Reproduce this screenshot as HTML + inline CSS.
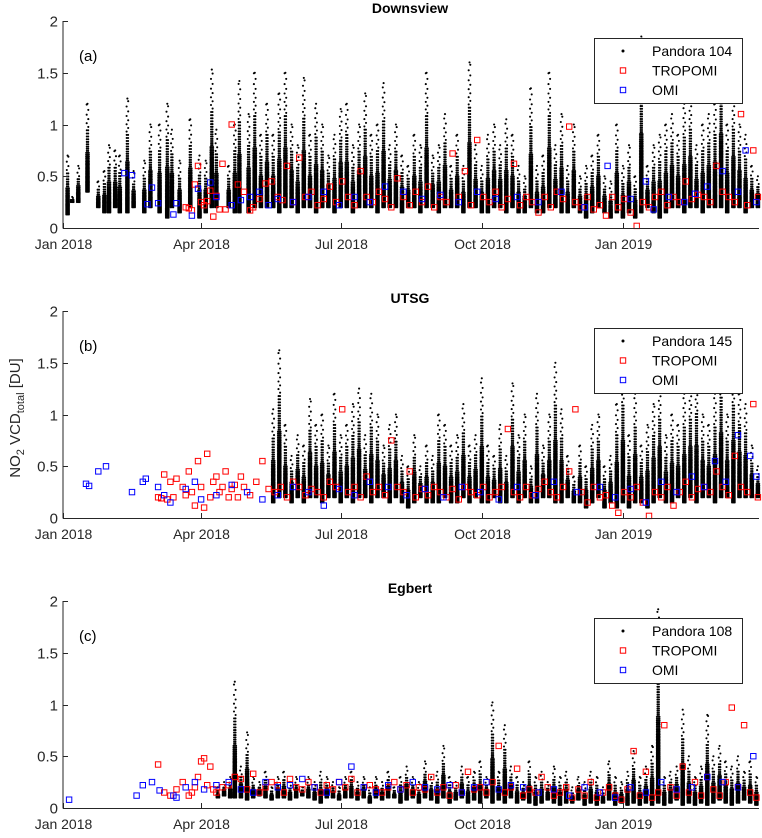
<!DOCTYPE html>
<html><head><meta charset="utf-8"><style>
html,body{margin:0;padding:0;background:#fff;}
svg{display:block;font-family:"Liberation Sans",Arial,sans-serif;}
</style></head><body>
<svg id="chart" width="762" height="838" viewBox="0 0 762 838" xmlns="http://www.w3.org/2000/svg"></svg>
<script>
// ---------- DATA ----------
const xTickLabels = ["Jan 2018","Apr 2018","Jul 2018","Oct 2018","Jan 2019"];
const xTickDays = [0,90,181,273,365];
const yTickLabels = ["0","0.5","1","1.5","2"];
const yTickValues = [0,0.5,1,1.5,2];
const panelTitles = ["Downsview","UTSG","Egbert"];
const panelLetters = ["(a)","(b)","(c)"];
const pandoraNames = ["Pandora 104","Pandora 145","Pandora 108"];

// Panel a
const aPanDays=[3,6,10,16,23,27,30,34,37,42,46,53,57,63,68,71,76,83,89,93,97,100,108,112,115,121,125,129,133,137,141,145,149,153,157,161,165,169,173,177,181,185,189,193,197,201,205,209,213,217,221,225,229,233,237,241,245,249,253,257,261,265,269,273,277,281,285,289,293,297,301,305,309,313,317,321,325,329,333,337,341,345,349,353,357,361,365,369,373,377,381,385,389,393,397,401,405,409,413,417,421,425,429,433,437,441,445,449,453];
const aPanHi=[.7,.3,.6,1.2,.45,.55,.8,.75,.7,1.25,.55,.65,1.0,1.0,1.2,.95,.65,1.05,.7,.65,1.53,.95,.6,1.0,1.42,1.1,1.5,.9,1.2,.9,1.3,1.5,1.0,.8,1.45,.9,1.2,1.0,.7,.9,1.15,1.2,.8,1.0,1.3,.9,1.0,1.4,.8,1.0,.7,.6,.9,.8,1.5,.7,.8,1.1,.6,.9,.6,1.6,.8,.6,.9,1.0,.8,1.05,.9,.6,.5,1.35,.6,.7,1.5,.8,1.1,.6,1.0,.5,.6,.7,.9,.5,.45,1.0,.6,.8,.5,1.85,.6,.8,.9,1.0,1.1,.9,1.2,1.3,.8,1.0,1.1,1.2,1.8,1.0,1.3,1.0,.9,.6,.5];
const aPanLo=[.13,.25,.25,.35,.2,.15,.15,.2,.15,.15,.2,.15,.2,.15,.1,.2,.15,.2,.1,.15,.2,.2,.2,.15,.15,.15,.2,.2,.2,.2,.15,.2,.2,.15,.2,.2,.15,.2,.2,.15,.2,.2,.15,.2,.2,.2,.15,.2,.2,.2,.15,.2,.2,.15,.2,.2,.15,.2,.2,.2,.15,.2,.2,.15,.15,.2,.2,.15,.2,.15,.15,.2,.15,.15,.2,.2,.15,.15,.2,.15,.1,.15,.2,.15,.1,.15,.1,.15,.1,.15,.2,.15,.1,.15,.2,.2,.15,.2,.2,.15,.2,.2,.2,.15,.2,.2,.15,.2,.2];
const aTropDays=[80,82,84,86,88,90,92,94,96,98,100,102,104,106,110,114,118,122,124,128,132,136,140,143,146,150,154,158,162,166,170,174,178,182,186,190,194,198,202,206,210,214,218,222,226,230,234,238,242,246,250,254,258,262,266,270,274,278,282,286,290,294,298,302,306,310,314,318,322,326,330,334,338,342,346,350,354,358,362,366,370,374,378,382,386,390,394,398,402,406,410,414,418,422,426,430,434,438,442,446,450,453];
const aTropVal=[.2,.19,.17,.42,.6,.25,.22,.26,.36,.11,.31,.18,.62,.18,1.0,.42,.35,.17,.2,.28,.43,.45,.3,.27,.6,.25,.68,.3,.35,.22,.28,.4,.25,.45,.3,.22,.55,.3,.25,.35,.28,.2,.48,.3,.22,.35,.25,.4,.2,.3,.25,.72,.3,.55,.22,.85,.3,.25,.35,.2,.28,.62,.22,.3,.25,.15,.3,.2,.35,.28,.98,.25,.2,.3,.18,.22,.12,.3,.2,.28,.15,.02,.25,.2,.3,.35,.22,.3,.25,.45,.28,.32,.3,.25,.6,.35,.3,.25,1.1,.22,.75,.3];
const aOmiDays=[40,45,55,58,62,72,74,84,88,96,100,110,116,122,128,134,140,150,160,170,180,190,200,210,222,234,246,258,270,282,296,310,325,340,355,370,380,385,395,405,412,420,430,440,445,452];
const aOmiVal=[.53,.51,.23,.39,.24,.13,.24,.12,.38,.44,.30,.22,.27,.30,.35,.22,.28,.25,.30,.35,.22,.30,.25,.40,.35,.28,.32,.25,.35,.28,.30,.25,.35,.20,.60,.28,.45,.18,.30,.25,.33,.40,.55,.35,.75,.25];

// Panel b
const bPanDays=[137,141,145,149,153,157,161,165,169,173,177,181,185,189,193,197,201,205,209,213,217,221,225,229,233,237,241,245,249,253,257,261,265,269,273,277,281,285,289,293,297,301,305,309,313,317,321,325,329,333,337,341,345,349,353,357,361,365,369,373,377,381,385,389,393,397,401,405,409,413,417,421,425,429,433,437,441,445,449,453];
const bPanHi=[1.05,1.62,.9,.6,.8,.7,1.15,.9,1.0,.7,1.2,.8,.9,1.1,1.25,.8,1.2,1.0,.7,.9,1.0,.6,.5,.8,.5,.7,.6,1.0,.9,.7,.8,1.1,.7,.8,1.35,.7,.6,.9,.6,1.3,.8,1.0,.5,1.2,.7,1.0,1.5,1.05,.6,.4,.7,.5,.9,1.0,.5,.6,1.1,1.5,.8,1.2,.7,.9,1.1,1.3,.8,1.0,.9,1.2,1.3,1.4,1.0,.9,1.2,1.6,1.0,1.5,1.2,1.1,.7,.5];
const bPanLo=[.15,.2,.2,.15,.2,.15,.2,.2,.15,.2,.2,.15,.2,.15,.2,.2,.15,.2,.2,.15,.2,.15,.1,.15,.2,.15,.15,.15,.2,.15,.15,.2,.15,.2,.15,.15,.2,.15,.15,.2,.15,.2,.15,.15,.2,.2,.15,.15,.2,.15,.15,.1,.15,.2,.1,.15,.1,.15,.1,.15,.15,.1,.15,.2,.15,.15,.2,.15,.2,.15,.2,.2,.15,.2,.2,.15,.2,.2,.2,.2];
const bTropDays=[62,64,66,68,70,72,74,78,80,82,84,86,88,90,92,94,96,98,100,102,104,106,108,110,112,114,116,118,122,126,130,134,138,142,146,150,154,158,162,166,170,174,178,182,186,190,194,198,202,206,210,214,218,222,226,230,234,238,242,246,250,254,258,262,266,270,274,278,282,286,290,294,298,302,306,310,314,318,322,326,330,334,338,342,346,350,354,358,362,366,370,374,378,382,386,390,394,398,402,406,410,414,418,422,426,430,434,438,442,446,450,453];
const bTropVal=[.2,.19,.42,.18,.35,.2,.38,.3,.22,.45,.25,.12,.55,.3,.1,.62,.2,.35,.4,.25,.3,.45,.2,.28,.32,.2,.4,.3,.22,.35,.55,.28,.25,.3,.2,.35,.3,.22,.28,.25,.2,.35,.3,1.05,.25,.3,.2,.4,.25,.3,.22,.75,.3,.25,.45,.2,.28,.22,.3,.25,.2,.28,.18,.3,.25,.22,.3,.2,.25,.3,.86,.25,.2,.3,.22,.28,.35,.25,.2,.3,.45,1.05,.25,.15,.3,.2,.22,.12,.05,.25,.2,.3,.15,.02,.25,.2,.3,.12,.25,.35,.2,.28,.3,.25,.45,.3,.22,.6,.3,.25,1.1,.2,.45];
const bOmiDays=[15,17,23,28,45,52,54,62,66,70,80,86,90,100,110,120,130,140,150,160,170,180,190,200,212,224,236,248,260,272,284,296,308,320,335,350,360,370,380,390,400,410,418,425,432,440,448,452];
const bOmiVal=[.33,.31,.45,.5,.25,.35,.38,.3,.22,.15,.28,.35,.18,.22,.32,.25,.18,.22,.3,.25,.12,.28,.22,.35,.3,.22,.28,.2,.3,.25,.18,.3,.22,.35,.25,.3,.2,.28,.15,.35,.25,.4,.3,.55,.35,.8,.6,.4];

// Panel c
const cPanDays=[101,105,109,112,116,120,124,128,132,136,140,144,148,152,156,160,164,168,172,176,180,184,188,192,196,200,204,208,212,216,220,224,228,232,236,240,244,248,252,256,260,264,268,272,276,280,284,288,292,296,300,304,308,312,316,320,324,328,332,336,340,344,348,352,356,360,364,368,372,376,380,384,388,392,396,400,404,408,412,416,420,424,428,432,436,440,444,448,452];
const cPanHi=[.2,.25,.3,1.22,.4,.73,.3,.25,.35,.2,.3,.35,.25,.3,.2,.3,.25,.35,.3,.25,.2,.3,.35,.25,.3,.2,.3,.25,.35,.2,.3,.4,.3,.25,.45,.3,.35,.6,.3,.25,.4,.3,.35,.45,.3,1.02,.35,.8,.4,.3,.25,.45,.3,.35,.25,.4,.3,.35,.2,.3,.25,.35,.3,.2,.45,.3,.25,.35,.55,.3,.4,.6,1.92,.3,.35,.4,.95,.5,.3,.4,.9,.5,.6,.45,.4,.5,.35,.45,.3];
const cPanLo=[.1,.12,.1,.1,.1,.08,.1,.12,.1,.08,.1,.1,.08,.1,.12,.1,.08,.05,.1,.1,.08,.1,.1,.08,.1,.05,.1,.08,.1,.1,.05,.08,.1,.05,.1,.08,.05,.1,.05,.08,.1,.05,.08,.05,.1,.05,.08,.05,.1,.05,.08,.05,.03,.05,.08,.05,.03,.05,.05,.08,.03,.05,.03,.05,.08,.03,.05,.03,.05,.03,.05,.03,.05,.03,.05,.08,.03,.05,.03,.05,.03,.05,.08,.05,.03,.05,.08,.05,.03];
const cTropDays=[62,66,70,74,78,82,84,86,88,90,92,94,96,98,100,104,108,112,116,120,124,128,132,136,140,144,148,152,156,160,164,168,172,176,180,184,188,192,196,200,204,208,212,216,220,224,228,232,236,240,244,248,252,256,260,264,268,272,276,280,284,288,292,296,300,304,308,312,316,320,324,328,332,336,340,344,348,352,356,360,364,368,372,376,380,384,388,392,396,400,404,408,412,416,420,424,428,432,436,440,444,448,452];
const cTropVal=[.42,.15,.12,.18,.25,.12,.15,.2,.3,.45,.48,.22,.4,.18,.15,.2,.22,.3,.28,.18,.33,.15,.2,.25,.22,.15,.28,.2,.18,.25,.2,.15,.22,.18,.25,.2,.28,.15,.2,.22,.18,.15,.2,.25,.18,.22,.15,.2,.18,.3,.15,.2,.12,.22,.15,.35,.18,.2,.15,.25,.6,.15,.2,.38,.12,.18,.15,.3,.2,.12,.15,.2,.1,.18,.12,.25,.1,.15,.2,.12,.08,.18,.55,.12,.35,.1,.15,.8,.2,.12,.4,.15,.25,.12,.3,.18,.12,.25,.97,.2,.8,.15,.1];
const cOmiDays=[4,48,52,58,63,72,74,80,86,92,100,108,116,124,132,140,148,156,164,172,180,188,196,204,212,220,228,236,244,252,260,268,276,284,292,300,310,320,330,340,350,360,370,380,390,400,410,420,430,440,450];
const cOmiVal=[.08,.12,.22,.25,.17,.12,.1,.2,.25,.18,.22,.25,.18,.15,.25,.2,.22,.28,.2,.15,.25,.4,.2,.15,.22,.18,.25,.2,.18,.22,.15,.2,.25,.18,.22,.2,.15,.18,.12,.2,.15,.1,.2,.15,.25,.18,.2,.3,.25,.2,.5];

const panels=[
 {top:21,bottom:228,pan:[aPanDays,aPanLo,aPanHi],trop:[aTropDays,aTropVal],omi:[aOmiDays,aOmiVal]},
 {top:311,bottom:518,pan:[bPanDays,bPanLo,bPanHi],trop:[bTropDays,bTropVal],omi:[bOmiDays,bOmiVal]},
 {top:601,bottom:808,pan:[cPanDays,cPanLo,cPanHi],trop:[cTropDays,cTropVal],omi:[cOmiDays,cOmiVal]}
];

// ---------- DRAW ----------
const NS="http://www.w3.org/2000/svg";
const svg=document.getElementById('chart');
const X0=63,XPD=1.534,XEND=759;
function xs(d){return X0+d*XPD;}
function mk(tag,attrs,parent){const e=document.createElementNS(NS,tag);for(const k in attrs)e.setAttribute(k,attrs[k]);(parent||svg).appendChild(e);return e;}

panels.forEach((p,i)=>{
 const ys=v=>p.bottom-(v/2)*(p.bottom-p.top);
 const g=mk('g',{});
 
 
 const pg=mk('g',{fill:'#000'},g);
 
 
 const [pd,plo,phi]=p.pan;
 pd.forEach((d,k)=>{
   const x=xs(d);
   const yl=ys(plo[k]),yh=ys(phi[k]);
   const span=Math.max(1,yl-yh);
   let y=yl, n=0;
   while(y>=yh){
     const f=(yl-y)/span;
     const offs=f<0.45?[-1.3,0,1.3]:(f<0.7?[-0.7,0.7]:[(n%2)?0.8:-0.8]);
     offs.forEach(o=>mk('circle',{cx:(x+o).toFixed(1),cy:y.toFixed(1),r:1.05},pg));
     y-=1.0+f*f*5;
     n++;
   }
   mk('circle',{cx:x.toFixed(1),cy:yh.toFixed(1),r:1.05},pg);
 });
 const tg=mk('g',{fill:'none',stroke:'#ff0000','stroke-width':1},g);
 
 
 p.trop[0].forEach((d,k)=>{
   const r=mk('rect',{x:(xs(d)-2.7).toFixed(1),y:(ys(p.trop[1][k])-2.7).toFixed(1),width:5.4,height:5.4},tg);
   
   
 });
 const og=mk('g',{fill:'none',stroke:'#0000ff','stroke-width':1},g);
 
 
 p.omi[0].forEach((d,k)=>{
   const r=mk('rect',{x:(xs(d)-2.7).toFixed(1),y:(ys(p.omi[1][k])-2.7).toFixed(1),width:5.4,height:5.4},og);
   
   
 });
 const ax=mk('g',{stroke:'#262626','stroke-width':1},g);
 
 
 mk('line',{x1:X0,y1:p.top,x2:X0,y2:p.bottom+0.5},ax);
 mk('line',{x1:X0,y1:p.bottom+0.5,x2:XEND,y2:p.bottom+0.5},ax);
 yTickValues.forEach((v,k)=>{
   const y=Math.round(ys(v))+0.5;
   mk('line',{x1:X0,y1:y,x2:X0+5,y2:y},ax);
   const t=mk('text',{x:X0-5,y:y+5,'text-anchor':'end','font-size':15,fill:'#262626',stroke:'none'},g);
   t.textContent=yTickLabels[k];
   
   
 });
 xTickDays.forEach((d,k)=>{
   const x=Math.round(xs(d))+0.5;
   mk('line',{x1:x,y1:p.bottom,x2:x,y2:p.bottom-5},ax);
   const t=mk('text',{x:x,y:p.bottom+21,'text-anchor':'middle','font-size':14,fill:'#262626'},g);
   t.textContent=xTickLabels[k];
   
   
 });
 const ti=mk('text',{x:410,y:p.top-8,'text-anchor':'middle','font-size':14,'font-weight':'bold',fill:'#000'},g);
 ti.textContent=panelTitles[i];
 
 
 const lt=mk('text',{x:79,y:p.top+40,'font-size':15,fill:'#000'},g);
 lt.textContent=panelLetters[i];
 
 
 const lg=mk('g',{},g);
 
 
 const ly=p.top+17;
 mk('rect',{x:594.5,y:ly+0.5,width:148,height:65,fill:'#fff',stroke:'#262626','stroke-width':1},lg);
 const names=[pandoraNames[i],'TROPOMI','OMI'];
 names.forEach((n,k)=>{
   const cy=ly+13+k*19.5;
   if(k===0) mk('circle',{cx:623,cy:cy,r:1.5,fill:'#000'},lg);
   else mk('rect',{x:620.3,y:cy-2.7,width:5.4,height:5.4,fill:'none',stroke:k===1?'#ff0000':'#0000ff'},lg);
   const t=mk('text',{x:652,y:cy+5,'font-size':14,fill:'#000'},lg);
   t.textContent=n;
   
   
 });
});
const yt=mk('text',{transform:'translate(20,418) rotate(-90)','text-anchor':'middle','font-size':15,fill:'#262626'});


yt.innerHTML='NO<tspan font-size="11" dy="4">2</tspan><tspan dy="-4"> VCD</tspan><tspan font-size="11" dy="4">total</tspan><tspan dy="-4"> [DU]</tspan>';
</script>
</body></html>
